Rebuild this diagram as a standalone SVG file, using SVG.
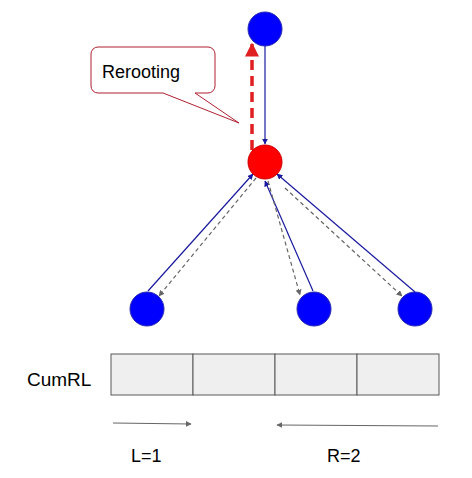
<svg xmlns="http://www.w3.org/2000/svg" width="472" height="478" viewBox="0 0 472 478">
<style>
.blue{fill:#0000ff;stroke:#2a2ab0;stroke-width:1}
.red{fill:#ff0000;stroke:#cc0000;stroke-width:1}
.solid{stroke:#1a1aa0;stroke-width:1.2;fill:none}
.dash{stroke:#666;stroke-width:1.2;stroke-dasharray:4,3;fill:none}
.gray{stroke:#666;stroke-width:1;fill:none}
.cell{fill:#efefef;stroke:#595959;stroke-width:1}
text{font-family:"Liberation Sans",Arial,sans-serif;fill:#000}
</style>
<defs>
<marker id="ab" viewBox="0 0 10 10" refX="9" refY="5" markerWidth="6" markerHeight="6" orient="auto" markerUnits="userSpaceOnUse"><path d="M0,0L10,5L0,10z" fill="#1a1aa0"/></marker>
<marker id="ag" viewBox="0 0 10 10" refX="9" refY="5" markerWidth="6" markerHeight="6" orient="auto" markerUnits="userSpaceOnUse"><path d="M0,0L10,5L0,10z" fill="#666"/></marker>
<marker id="ar" viewBox="0 0 10 10" refX="9" refY="5" markerWidth="14" markerHeight="14" orient="auto" markerUnits="userSpaceOnUse"><path d="M0,0L10,5L0,10z" fill="#e02020"/></marker>
</defs>
<g id="connectors">
<line class="solid" x1="265" y1="46" x2="265" y2="144" marker-end="url(#ab)"/>
<line x1="252" y1="150" x2="252" y2="44" stroke="#e02020" stroke-width="3.5" stroke-dasharray="10,6" marker-end="url(#ar)"/>
<line class="solid" x1="148" y1="291" x2="253" y2="174" marker-end="url(#ab)"/>
<line class="dash" x1="256" y1="178" x2="159" y2="296" marker-end="url(#ag)"/>
<line class="solid" x1="313" y1="291" x2="265" y2="181" marker-end="url(#ab)"/>
<line class="dash" x1="268" y1="181" x2="300" y2="295" marker-end="url(#ag)"/>
<line class="solid" x1="415" y1="292" x2="277" y2="174" marker-end="url(#ab)"/>
<line class="dash" x1="285" y1="188" x2="402" y2="296" marker-end="url(#ag)"/>
<line class="gray" x1="113" y1="423" x2="191" y2="424" marker-end="url(#ag)"/>
<line class="gray" x1="438" y1="426" x2="277" y2="425" marker-end="url(#ag)"/>
</g>
<g id="callout">
<path d="M98,47H208a7,7 0 0 1 7,7V86a7,7 0 0 1-7,7H195L239,123L163,93H98a7,7 0 0 1-7-7V54a7,7 0 0 1 7-7z" fill="#fff" stroke="#b02030" stroke-width="1"/>
<text x="102" y="78" font-size="18">Rerooting</text>
</g>
<g id="n-top"><circle class="blue" cx="265" cy="29" r="17"/></g>
<g id="n-red"><circle class="red" cx="265" cy="162" r="17"/></g>
<g id="n-c1"><circle class="blue" cx="147" cy="309" r="17"/></g>
<g id="n-c2"><circle class="blue" cx="314" cy="309" r="17"/></g>
<g id="n-c3"><circle class="blue" cx="415" cy="309" r="17"/></g>
<g id="array">
<rect class="cell" x="111" y="354" width="82" height="41"/>
<rect class="cell" x="193" y="354" width="82" height="41"/>
<rect class="cell" x="275" y="354" width="82" height="41"/>
<rect class="cell" x="357" y="354" width="82" height="41"/>
<text x="27" y="386" font-size="19">CumRL</text>
</g>
<text x="131" y="462" font-size="18">L=1</text>
<text x="327" y="462" font-size="18">R=2</text>
</svg>
